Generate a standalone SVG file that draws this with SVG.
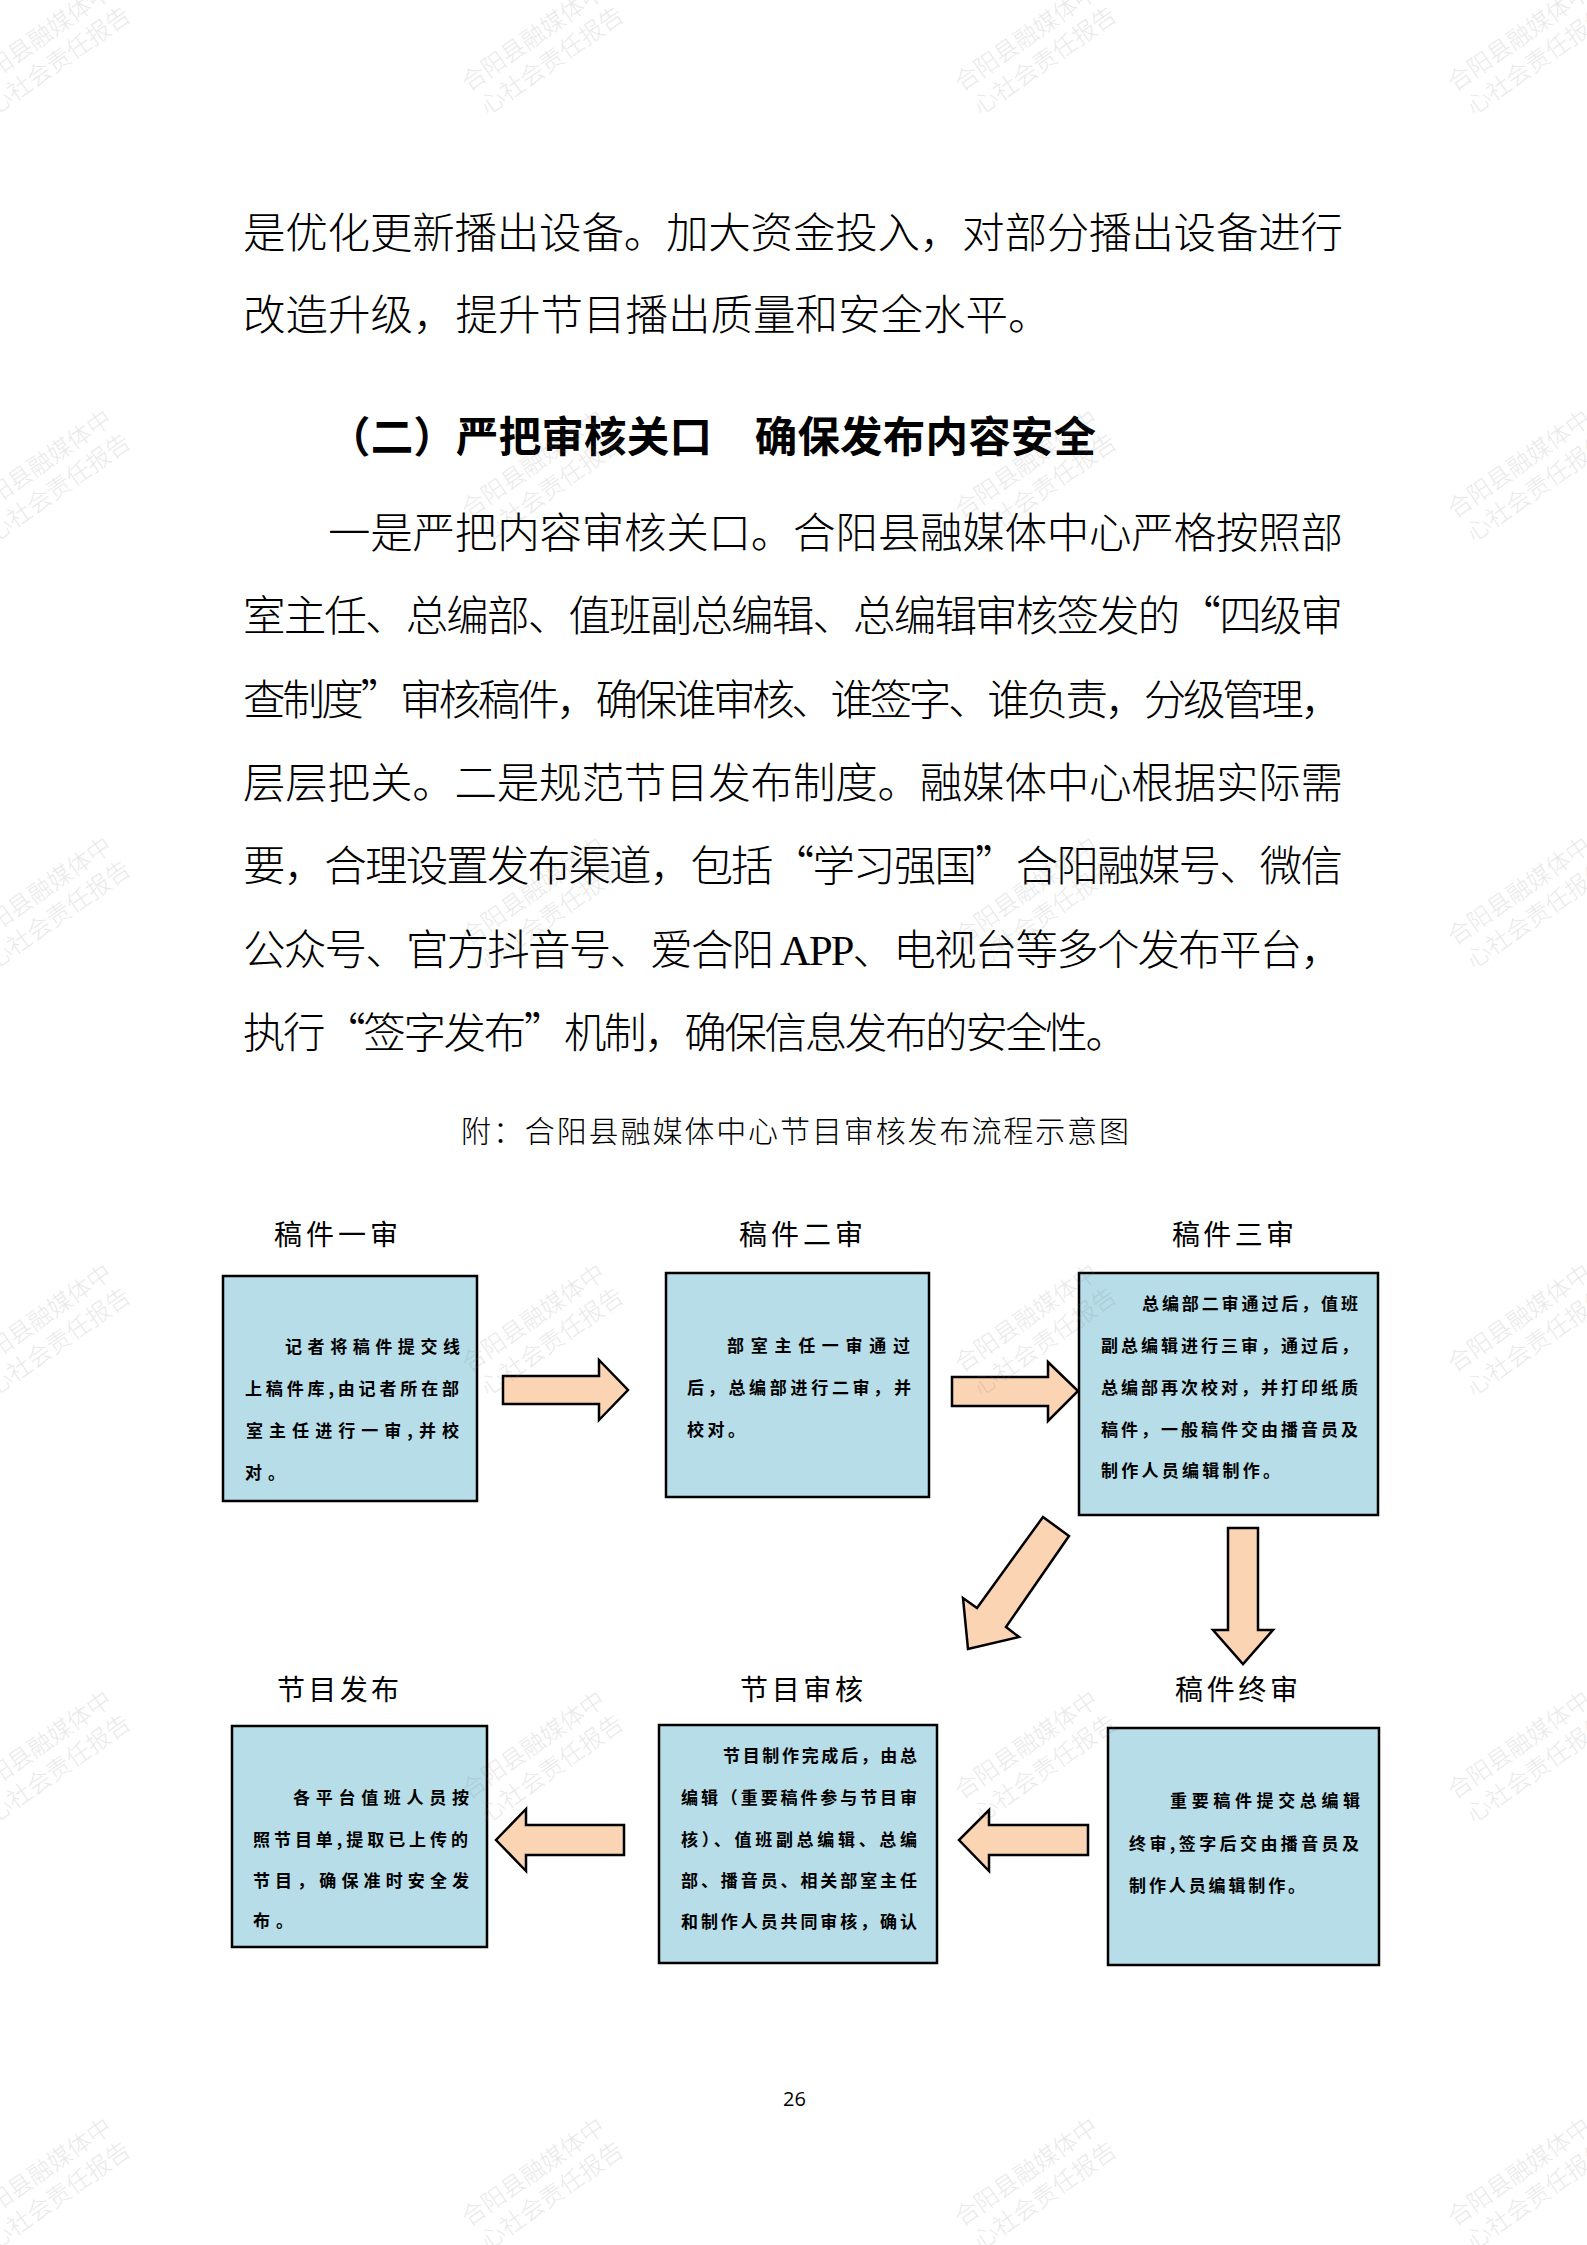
<svg xmlns="http://www.w3.org/2000/svg" xmlns:xlink="http://www.w3.org/1999/xlink" width="1587" height="2245" viewBox="0 0 1587 2245">
<style>
.body{font-family:"Noto Sans CJK SC","Noto Sans",sans-serif;font-size:42.5px;font-weight:300;fill:#000}
.head{font-family:"Noto Sans CJK SC","Noto Sans",sans-serif;font-size:42.5px;font-weight:600;fill:#000}
.cap{font-family:"Noto Sans CJK SC","Noto Sans",sans-serif;font-size:30px;font-weight:300;fill:#000}
.ttl{font-family:"Noto Sans CJK SC","Noto Sans",sans-serif;font-size:28px;font-weight:400;fill:#000}
.bt{font-family:"Noto Sans CJK SC","Noto Sans",sans-serif;font-size:17px;font-weight:700;fill:#000}
.box{fill:#b6dde8;stroke:#000;stroke-width:2.5}
.arr{fill:#fbd4b4;stroke:#000;stroke-width:2.5;stroke-linejoin:miter}
.wm{font-family:"Noto Sans CJK SC","Noto Sans",sans-serif;font-size:24px;font-weight:300;fill:#808080;opacity:0.17}
.pg{font-family:"Open Sans","Liberation Sans",sans-serif;font-size:20px;fill:#000}
</style>
<defs>
<g id="wm" transform="rotate(-35)">
<text class="wm" x="0" y="0">合阳县融媒体中</text>
<text class="wm" x="2" y="30">心社会责任报告</text>
</g>
</defs>
<rect x="0" y="0" width="1587" height="2245" fill="#fff"/>

<g id="body-text">
<text class="body" x="243" y="248" textLength="1100" lengthAdjust="spacing">是优化更新播出设备。加大资金投入，对部分播出设备进行</text>
<text class="body" x="243" y="330">改造升级，提升节目播出质量和安全水平。</text>
<text class="head" x="328" y="452" textLength="768" lengthAdjust="spacing">（二）严把审核关口　确保发布内容安全</text>
<text class="body" x="328" y="548" textLength="1015" lengthAdjust="spacing">一是严把内容审核关口。合阳县融媒体中心严格按照部</text>
<text class="body" x="243" y="631" textLength="1100" lengthAdjust="spacing">室主任、总编部、值班副总编辑、总编辑审核签发的“四级审</text>
<text class="body" x="243" y="715" textLength="1100" lengthAdjust="spacing">查制度”审核稿件，确保谁审核、谁签字、谁负责，分级管理，</text>
<text class="body" x="243" y="798" textLength="1100" lengthAdjust="spacing">层层把关。二是规范节目发布制度。融媒体中心根据实际需</text>
<text class="body" x="243" y="881" textLength="1100" lengthAdjust="spacing">要，合理设置发布渠道，包括“学习强国”合阳融媒号、微信</text>
<text class="body" x="243" y="965" textLength="1100" lengthAdjust="spacing">公众号、官方抖音号、爱合阳 <tspan font-family="Liberation Serif" font-weight="400">APP</tspan>、电视台等多个发布平台，</text>
<text class="body" x="243" y="1048" textLength="885" lengthAdjust="spacing">执行“签字发布”机制，确保信息发布的安全性。</text>
<text class="cap" x="461" y="1142" textLength="668" lengthAdjust="spacing">附：合阳县融媒体中心节目审核发布流程示意图</text>
</g>

<g id="connectors">
<polygon class="arr" points="503,1376 599,1376 599,1360 628,1390 599,1420 599,1404 503,1404"/>
<polygon class="arr" points="952,1377 1048,1377 1048,1362 1078,1391 1048,1421 1048,1406 952,1406"/>
<polygon class="arr" points="1043,1517 1069,1536 1006,1627 1019,1637 968,1649 963,1598 977,1608"/>
<polygon class="arr" points="1228,1528 1258,1528 1258,1630 1273,1630 1243,1664 1213,1630 1228,1630"/>
<polygon class="arr" points="1088,1825 989,1825 989,1810 959,1840 989,1871 989,1855 1088,1855"/>
<polygon class="arr" points="624,1825 526,1825 526,1809 496,1840 526,1871 526,1855 624,1855"/>
</g>

<g id="node-1">
<text class="ttl" x="274" y="1245" textLength="124" lengthAdjust="spacing">稿件一审</text>
<rect class="box" x="223" y="1276" width="254" height="225"/>
<text class="bt" x="285" y="1353" textLength="175" lengthAdjust="spacing">记者将稿件提交线</text>
<text class="bt" x="245" y="1395" textLength="214" lengthAdjust="spacing">上稿件库,由记者所在部</text>
<text class="bt" x="246" y="1437" textLength="213" lengthAdjust="spacing">室主任进行一审,并校</text>
<text class="bt" x="245" y="1479" textLength="40" lengthAdjust="spacing">对。</text>
</g>

<g id="node-2">
<text class="ttl" x="739" y="1245" textLength="124" lengthAdjust="spacing">稿件二审</text>
<rect class="box" x="666" y="1273" width="263" height="224"/>
<text class="bt" x="727" y="1352" textLength="183" lengthAdjust="spacing">部室主任一审通过</text>
<text class="bt" x="687" y="1394" textLength="224" lengthAdjust="spacing">后，总编部进行二审，并</text>
<text class="bt" x="687" y="1436" textLength="58" lengthAdjust="spacing">校对。</text>
</g>

<g id="node-3">
<text class="ttl" x="1172" y="1245" textLength="122" lengthAdjust="spacing">稿件三审</text>
<rect class="box" x="1079" y="1273" width="299" height="242"/>
<text class="bt" x="1142" y="1310" textLength="216" lengthAdjust="spacing">总编部二审通过后，值班</text>
<text class="bt" x="1101" y="1352" textLength="257" lengthAdjust="spacing">副总编辑进行三审，通过后，</text>
<text class="bt" x="1101" y="1394" textLength="257" lengthAdjust="spacing">总编部再次校对，并打印纸质</text>
<text class="bt" x="1101" y="1436" textLength="257" lengthAdjust="spacing">稿件，一般稿件交由播音员及</text>
<text class="bt" x="1101" y="1477" textLength="179" lengthAdjust="spacing">制作人员编辑制作。</text>
</g>

<g id="node-4">
<text class="ttl" x="1175" y="1700" textLength="123" lengthAdjust="spacing">稿件终审</text>
<rect class="box" x="1108" y="1728" width="271" height="237"/>
<text class="bt" x="1170" y="1807" textLength="190" lengthAdjust="spacing">重要稿件提交总编辑</text>
<text class="bt" x="1129" y="1850" textLength="230" lengthAdjust="spacing">终审,签字后交由播音员及</text>
<text class="bt" x="1129" y="1892" textLength="176" lengthAdjust="spacing">制作人员编辑制作。</text>
</g>

<g id="node-5">
<text class="ttl" x="740" y="1700" textLength="123" lengthAdjust="spacing">节目审核</text>
<rect class="box" x="659" y="1725" width="278" height="238"/>
<text class="bt" x="723" y="1762" textLength="194" lengthAdjust="spacing">节目制作完成后，由总</text>
<text class="bt" x="681" y="1804" textLength="236" lengthAdjust="spacing">编辑（重要稿件参与节目审</text>
<text class="bt" x="681" y="1846" textLength="236" lengthAdjust="spacing">核）、值班副总编辑、总编</text>
<text class="bt" x="681" y="1887" textLength="236" lengthAdjust="spacing">部、播音员、相关部室主任</text>
<text class="bt" x="681" y="1928" textLength="236" lengthAdjust="spacing">和制作人员共同审核，确认</text>
</g>

<g id="node-6">
<text class="ttl" x="277" y="1700" textLength="122" lengthAdjust="spacing">节目发布</text>
<rect class="box" x="232" y="1726" width="255" height="221"/>
<text class="bt" x="293" y="1804" textLength="176" lengthAdjust="spacing">各平台值班人员按</text>
<text class="bt" x="253" y="1846" textLength="215" lengthAdjust="spacing">照节目单,提取已上传的</text>
<text class="bt" x="253" y="1887" textLength="216" lengthAdjust="spacing">节目，确保准时安全发</text>
<text class="bt" x="253" y="1927" textLength="40" lengthAdjust="spacing">布。</text>
</g>

<text class="pg" x="783" y="2106">26</text>

<g id="watermarks">
<use xlink:href="#wm" x="-24" y="92"/><use xlink:href="#wm" x="469" y="92"/><use xlink:href="#wm" x="962" y="92"/><use xlink:href="#wm" x="1455" y="92"/>
<use xlink:href="#wm" x="-24" y="519"/><use xlink:href="#wm" x="469" y="519"/><use xlink:href="#wm" x="962" y="519"/><use xlink:href="#wm" x="1455" y="519"/>
<use xlink:href="#wm" x="-24" y="946"/><use xlink:href="#wm" x="469" y="946"/><use xlink:href="#wm" x="962" y="946"/><use xlink:href="#wm" x="1455" y="946"/>
<use xlink:href="#wm" x="-24" y="1373"/><use xlink:href="#wm" x="469" y="1373"/><use xlink:href="#wm" x="962" y="1373"/><use xlink:href="#wm" x="1455" y="1373"/>
<use xlink:href="#wm" x="-24" y="1800"/><use xlink:href="#wm" x="469" y="1800"/><use xlink:href="#wm" x="962" y="1800"/><use xlink:href="#wm" x="1455" y="1800"/>
<use xlink:href="#wm" x="-24" y="2227"/><use xlink:href="#wm" x="469" y="2227"/><use xlink:href="#wm" x="962" y="2227"/><use xlink:href="#wm" x="1455" y="2227"/>
</g>
</svg>
